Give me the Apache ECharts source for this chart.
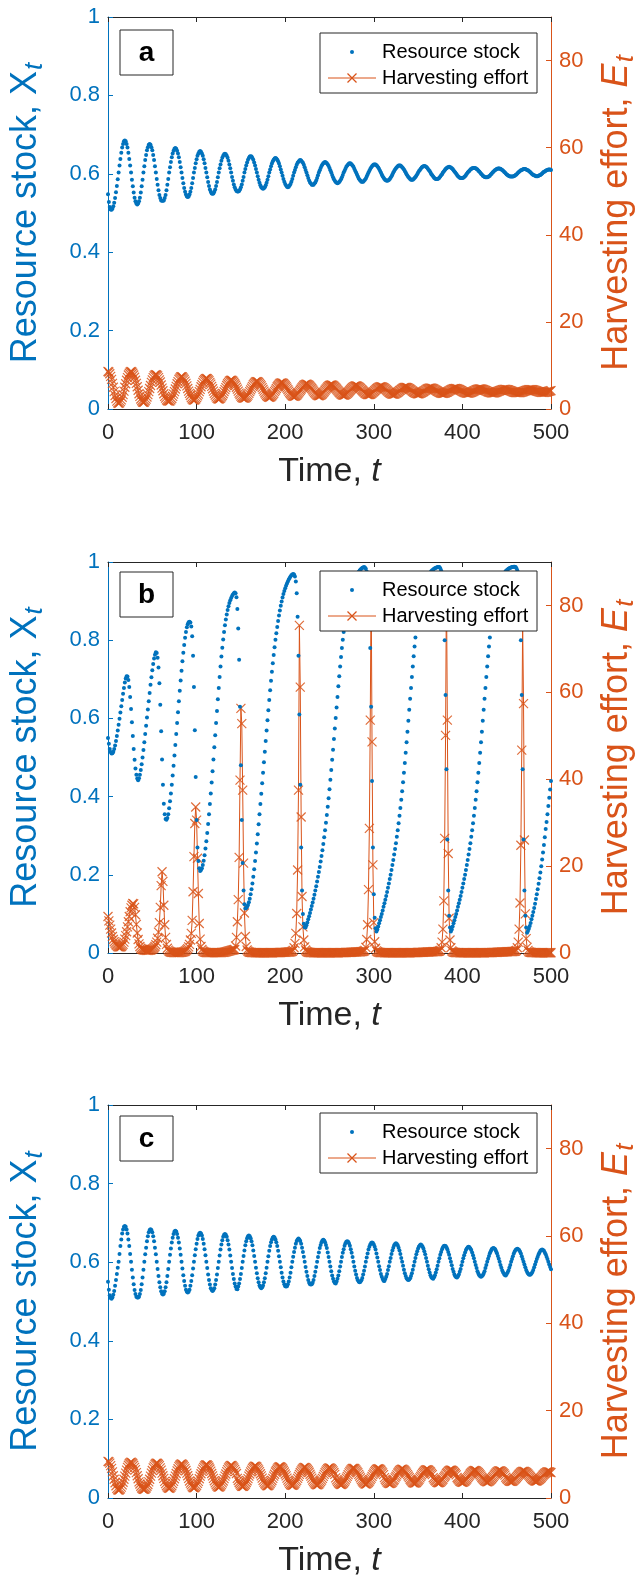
<!DOCTYPE html>
<html>
<head>
<meta charset="utf-8">
<script src="https://cdn.jsdelivr.net/npm/echarts/dist/echarts.min.js"></script>
<style>
html,body{margin:0;padding:0;background:#fff;}
#chart{width:644px;height:1577px;}
</style>
</head>
<body>
<div id="chart"></div>
<script>
// ---------- DATA (t = 0..500, step 1) ----------
const timeTicks = [0, 100, 200, 300, 400, 500];
const stockTicks = [0, 0.2, 0.4, 0.6, 0.8, 1];
const effortTicks = [0, 20, 40, 60, 80];
const panelLabels = ['a', 'b', 'c'];
const seriesNames = ['Resource stock', 'Harvesting effort'];

// Panel a : resource stock X_t
const stockA = [
.548,.528,.515,.509,.508,.511,.517,.526,.538,.553,.569,.586,
.603,.621,.638,.654,.667,.676,.683,.685,.683,.676,.667,.654,.638,.621,.603,.585,.568,.552,.539,.530,.524,.522,.524,.530,.539,.552,.568,.585,
.603,.619,.635,.648,.660,.668,.674,.676,.674,.668,.660,.648,.635,.619,.603,.587,.572,.558,.546,.538,.532,.531,.531,.532,.538,.546,.558,.572,.587,
.603,.617,.630,.642,.652,.659,.664,.666,.664,.659,.652,.642,.630,.617,.603,.589,.576,.564,.554,.547,.542,.541,.542,.547,.554,.564,.576,.589,
.603,.615,.627,.637,.646,.652,.656,.658,.656,.652,.646,.637,.627,.615,.603,.591,.579,.569,.560,.554,.550,.549,.550,.554,.560,.569,.579,.591,
.603,.614,.624,.633,.641,.646,.650,.651,.650,.646,.641,.633,.624,.614,.603,.592,.582,.573,.566,.560,.556,.555,.555,.556,.560,.566,.573,.582,.592,
.603,.612,.621,.629,.636,.640,.644,.645,.644,.640,.636,.629,.621,.612,.603,.594,.585,.577,.571,.566,.563,.562,.563,.566,.571,.577,.585,.594,
.603,.611,.619,.626,.632,.636,.639,.640,.639,.636,.632,.626,.619,.611,.603,.595,.587,.580,.574,.570,.567,.566,.567,.570,.574,.580,.587,.595,
.603,.610,.617,.623,.628,.631,.634,.635,.634,.631,.628,.623,.617,.610,.603,.596,.589,.583,.578,.575,.572,.572,.572,.575,.578,.583,.589,.596,
.603,.609,.615,.620,.624,.627,.629,.630,.629,.627,.624,.620,.615,.609,.603,.597,.591,.586,.582,.579,.577,.576,.577,.579,.582,.586,.591,.597,
.603,.608,.613,.618,.621,.624,.626,.627,.626,.624,.621,.618,.613,.608,.603,.598,.593,.588,.585,.582,.580,.580,.580,.582,.585,.588,.593,.598,
.603,.608,.612,.616,.619,.622,.624,.624,.624,.622,.619,.616,.612,.608,.603,.598,.594,.590,.587,.584,.583,.582,.583,.584,.587,.590,.594,.598,
.603,.607,.611,.614,.617,.619,.621,.621,.621,.619,.617,.614,.611,.607,.603,.599,.595,.592,.589,.587,.585,.585,.585,.587,.589,.592,.595,.599,
.603,.607,.610,.613,.616,.618,.619,.620,.619,.618,.616,.613,.610,.607,.603,.599,.596,.593,.590,.588,.587,.587,.587,.588,.590,.593,.596,.599,
.603,.606,.609,.612,.614,.616,.617,.618,.617,.616,.614,.612,.609,.606,.603,.600,.597,.594,.592,.590,.589,.589,.589,.590,.592,.594,.597,.600,
.603,.606,.608,.611,.612,.614,.615,.615,.615,.614,.612,.611,.608,.606,.603,.600,.598,.595,.594,.592,.591,.591,.591,.592,.594,.595,.598,.600,
.603,.605,.608,.610,.611,.613,.613,.614,.613,.613,.611,.610,.608,.605,.603,.601,.598,.597,.595,.594,.593,.593,.593,.593,.594,.595,.597,.598,.601,
.603,.605,.607,.609,.610,.611,.612,.612,.612,.611,.610,.609,.607,.605,.603,.601,.599,.597,.596,.595,.594,.594,.594,.595,.596,.597,.599,.601,
.603,.605,.606,.608,.609,.610,.611,.611,.611,.610
];
// Panel a : harvesting effort E_t
const effortA = [
8.6,8.5,8.1,7.5,6.8,5.9,5.0,4.0,3.1,2.4,1.8,1.4,
1.3,1.4,1.7,2.1,2.7,3.3,4.1,5.0,5.8,6.6,7.2,7.8,8.2,8.5,8.6,8.5,8.2,7.8,7.3,6.6,5.9,5.1,4.3,3.5,2.9,2.3,1.9,1.6,
1.55,1.6,1.9,2.25,2.75,3.3,4.0,4.7,5.4,6.1,6.7,7.2,7.6,7.8,7.9,7.8,7.6,7.2,6.7,6.2,5.5,4.8,4.2,3.5,2.9,2.5,2.1,1.9,1.85,
1.8,1.85,2.1,2.4,2.9,3.4,4.0,4.6,5.2,5.8,6.3,6.8,7.1,7.35,7.4,7.35,7.1,6.8,6.4,5.9,5.3,4.7,4.1,3.6,3.1,2.6,2.3,2.1,
2.05,2.1,2.3,2.6,3.0,3.4,4.0,4.5,5.1,5.6,6.1,6.5,6.75,6.95,7.0,6.95,6.75,6.5,6.1,5.7,5.2,4.65,4.1,3.6,3.2,2.8,2.5,2.35,
2.3,2.35,2.5,2.8,3.1,3.5,4.0,4.45,4.9,5.4,5.8,6.1,6.4,6.55,6.6,6.55,6.4,6.15,5.8,5.45,5.0,4.55,4.1,3.65,3.3,2.95,2.7,2.55,2.5,
2.5,2.55,2.7,2.9,3.2,3.6,4.0,4.4,4.8,5.2,5.6,5.9,6.1,6.25,6.3,6.25,6.1,5.9,5.6,5.3,4.9,4.5,4.1,3.7,3.4,3.1,2.9,2.75,
2.7,2.75,2.85,3.05,3.3,3.6,4.0,4.35,4.7,5.1,5.4,5.65,5.85,5.95,6.0,5.95,5.85,5.65,5.4,5.1,4.8,4.45,4.1,3.75,3.5,3.25,3.05,2.95,
2.9,2.95,3.05,3.2,3.45,3.7,4.0,4.3,4.6,4.9,5.15,5.4,5.55,5.65,5.7,5.65,5.55,5.4,5.2,4.95,4.7,4.4,4.1,3.8,3.6,3.35,3.2,3.1,
3.05,3.1,3.2,3.3,3.5,3.75,4.0,4.3,4.55,4.8,5.05,5.25,5.4,5.45,5.5,5.48,5.39,5.25,5.06,4.86,4.6,4.35,4.1,3.84,3.64,3.45,3.31,3.22,
3.2,3.22,3.3,3.43,3.6,3.79,4.02,4.25,4.48,4.71,4.9,5.07,5.2,5.28,5.3,5.28,5.2,5.08,4.92,4.74,4.52,4.3,4.08,3.86,3.68,3.52,3.4,3.32,
3.3,3.32,3.39,3.5,3.64,3.8,4.0,4.2,4.4,4.6,4.76,4.9,5.01,5.08,5.1,5.08,5.02,4.91,4.78,4.62,4.44,4.25,4.06,3.88,3.72,3.59,3.48,3.42,
3.4,3.42,3.48,3.57,3.69,3.83,4.0,4.18,4.35,4.52,4.66,4.78,4.87,4.93,4.95,4.94,4.88,4.79,4.67,4.54,4.38,4.23,4.07,3.91,3.78,3.66,3.57,3.51,
3.5,3.51,3.57,3.64,3.75,3.86,4.01,4.15,4.29,4.44,4.55,4.66,4.74,4.79,4.8,4.79,4.74,4.67,4.57,4.46,4.33,4.2,4.07,3.94,3.83,3.73,3.66,3.61,
3.6,3.61,3.66,3.72,3.81,3.91,4.03,4.15,4.27,4.39,4.49,4.58,4.65,4.69,4.7,4.69,4.65,4.58,4.5,4.41,4.29,4.18,4.06,3.94,3.85,3.77,3.7,3.66,
3.65,3.66,3.7,3.75,3.83,3.92,4.02,4.13,4.23,4.33,4.42,4.5,4.55,4.59,4.6,4.59,4.56,4.5,4.43,4.35,4.25,4.15,4.05,3.95,3.87,3.8,3.75,3.71,
3.7,3.71,3.74,3.79,3.85,3.92,4.01,4.1,4.19,4.28,4.35,4.41,4.46,4.49,4.5,4.49,4.46,4.42,4.36,4.29,4.21,4.13,4.04,3.96,3.89,3.83,3.79,3.76,3.75,
3.75,3.76,3.78,3.83,3.88,3.95,4.02,4.1,4.18,4.25,4.32,4.37,4.42,4.44,4.45,4.44,4.42,4.38,4.33,4.27,4.2,4.13,4.05,3.98,3.92,3.87,3.83,3.81,
3.8,3.81,3.83,3.87,3.91,3.97,4.03,4.1,4.17,4.23
];

// Panel b : resource stock X_t
const stockB = [
.55,.535,.522,.514,.51,.511,.515,.522,.531,.542,
.555,.569,.584,.599,.615,.631,.647,.663,.678,.692,
.702,.708,.707,.698,.68,.655,.624,.59,.555,.522,
.494,.472,.456,.446,.442,.447,.456,.468,.483,.5,
.519,.539,.56,.581,.602,.623,.644,.665,.686,.705,
.723,.739,.753,.763,.769,.767,.755,.73,.69,.635,
.567,.495,.43,.382,.355,.343,.341,.345,.355,.37,
.388,.408,.43,.454,.479,.505,.532,.56,.588,.616,
.644,.671,.697,.722,.746,.768,.788,.806,.821,.833,
.841,.846,.847,.845,.835,.81,.76,.68,.57,.45,
.34,.27,.235,.217,.21,.212,.217,.225,.236,.25,
.267,.286,.307,.33,.355,.381,.408,.436,.465,.495,
.526,.557,.588,.619,.649,.678,.706,.733,.758,.781,
.802,.821,.838,.853,.866,.877,.887,.895,.902,.908,
.913,.917,.92,.922,.92,.91,.88,.83,.75,.63,
.48,.34,.23,.16,.125,.114,.115,.118,.123,.13,
.139,.15,.163,.178,.195,.214,.235,.257,.28,.304,
.329,.355,.381,.407,.434,.461,.488,.515,.542,.569,
.595,.621,.647,.672,.696,.719,.741,.762,.782,.801,
.818,.834,.849,.863,.876,.888,.899,.909,.918,.926,
.933,.939,.945,.95,.955,.959,.963,.966,.968,.969,
.968,.963,.95,.92,.86,.76,.61,.43,.27,.16,
.1,.075,.066,.065,.071,.078,.086,.094,.102,.111,
.12,.129,.139,.149,.16,.171,.183,.195,.207,.22,
.234,.248,.263,.279,.296,.314,.333,.353,.374,.396,
.419,.443,.468,.494,.52,.547,.574,.601,.628,.655,
.682,.708,.733,.757,.78,.801,.821,.839,.856,.871,
.885,.897,.908,.918,.927,.935,.942,.948,.954,.959,
.964,.968,.972,.975,.978,.981,.983,.985,.986,.987,
.986,.983,.976,.962,.935,.88,.78,.63,.44,.27,
.15,.09,.063,.055,.06,.068,.076,.084,.092,.1,
.109,.118,.127,.136,.146,.156,.167,.178,.189,.2,
.212,.225,.238,.252,.266,.281,.297,.314,.332,.351,
.371,.392,.414,.437,.461,.486,.512,.539,.566,.594,
.622,.65,.678,.706,.733,.759,.784,.807,.829,.849,
.867,.883,.897,.909,.92,.929,.937,.944,.95,.955,
.96,.964,.968,.971,.974,.977,.979,.981,.983,.984,
.985,.986,.987,.987,.987,.984,.978,.965,.94,.89,
.8,.66,.47,.29,.16,.095,.065,.055,.06,.068,
.076,.084,.092,.1,.109,.118,.127,.136,.146,.156,
.167,.178,.189,.2,.212,.225,.238,.252,.266,.281,
.297,.314,.332,.351,.371,.392,.414,.437,.461,.486,
.512,.539,.566,.594,.622,.65,.678,.706,.733,.759,
.784,.807,.829,.849,.867,.883,.897,.909,.92,.929,
.937,.944,.95,.955,.96,.964,.968,.971,.974,.977,
.979,.981,.983,.984,.985,.986,.987,.987,.988,.988,
.987,.984,.978,.965,.94,.89,.8,.66,.47,.29,
.16,.095,.065,.052,.056,.062,.069,.077,.086,.095,
.105,.115,.126,.138,.15,.163,.177,.191,.206,.222,
.239,.257,.276,.296,.317,.335,.355,.376,.397,.418,
.44
];
// Panel b : harvesting effort E_t
const effortB = [
8.4,7.4,6.4,5.5,4.6,3.8,3.1,2.6,2.2,1.9,
1.7,1.5,1.4,1.4,1.4,1.5,1.7,2.0,2.5,3.2,
4.0,4.9,6.0,7.2,8.4,9.5,10.4,11.0,11.4,11.3,
10.5,8.8,6.6,4.6,3.1,2.1,1.5,1.1,0.9,0.8,
0.75,0.7,0.65,0.6,0.6,0.6,0.62,0.65,0.7,0.78,
0.88,1.0,1.2,1.5,1.9,2.5,3.4,4.8,7.0,10.5,
15.5,18.7,16.5,11,6.5,3.6,2.0,1.1,0.65,0.4,
0.28,0.2,0.16,0.13,0.11,0.1,0.1,0.1,0.1,0.1,
0.11,0.12,0.14,0.17,0.21,0.26,0.3,0.4,0.55,0.75,
1.0,1.4,2.0,3.0,4.5,7.5,14.1,22.2,29.8,33.6,
30.6,21.8,13.7,6.8,3.2,1.5,0.8,0.45,0.3,0.2,
0.15,0.12,0.1,0.09,0.08,0.08,0.07,0.07,0.07,0.07,
0.07,0.07,0.07,0.07,0.08,0.08,0.09,0.1,0.11,0.13,
0.15,0.18,0.21,0.25,0.3,0.36,0.43,0.5,0.55,0.6,
0.65,0.7,0.75,0.8,1.6,3.6,7.2,12.3,22,39.8,
56.3,52.8,37.5,20.7,9.2,3.8,1.5,0.7,0.4,0.25,
0.18,0.14,0.11,0.09,0.08,0.07,0.06,0.06,0.05,0.05,
0.05,0.05,0.05,0.05,0.05,0.05,0.05,0.05,0.05,0.05,
0.05,0.05,0.05,0.05,0.05,0.06,0.06,0.07,0.07,0.08,
0.08,0.09,0.1,0.1,0.11,0.12,0.13,0.14,0.15,0.16,
0.17,0.18,0.19,0.2,0.22,0.24,0.26,0.3,0.4,0.6,
1.2,2.2,4.5,9.1,19.1,37.5,75.4,61.2,31.3,13,
6,3,1.4,0.7,0.4,0.25,0.18,0.14,0.11,0.09,
0.08,0.07,0.06,0.06,0.05,0.05,0.05,0.05,0.05,0.05,
0.05,0.05,0.05,0.05,0.05,0.05,0.05,0.05,0.05,0.05,
0.05,0.05,0.05,0.05,0.05,0.05,0.05,0.05,0.05,0.06,
0.06,0.07,0.07,0.08,0.08,0.09,0.1,0.1,0.11,0.12,
0.13,0.14,0.15,0.16,0.17,0.18,0.19,0.2,0.21,0.22,
0.23,0.24,0.25,0.26,0.27,0.28,0.3,0.33,0.38,0.45,
0.6,1.3,3.1,6.5,14.6,28.7,53.6,86,48.6,20.3,
7,2.6,1.1,0.5,0.3,0.2,0.15,0.12,0.1,0.09,
0.08,0.07,0.06,0.06,0.05,0.05,0.05,0.05,0.05,0.05,
0.05,0.05,0.05,0.05,0.05,0.05,0.05,0.05,0.05,0.05,
0.05,0.05,0.05,0.05,0.05,0.05,0.05,0.05,0.05,0.05,
0.06,0.06,0.07,0.07,0.08,0.08,0.09,0.1,0.1,0.11,
0.12,0.13,0.14,0.15,0.16,0.17,0.18,0.19,0.2,0.21,
0.22,0.23,0.24,0.25,0.26,0.27,0.28,0.29,0.3,0.31,
0.32,0.33,0.35,0.38,0.45,0.6,1.2,2.5,5.5,12,
26.4,50.1,86,53.6,22.9,8,3,1.2,0.5,0.3,
0.2,0.15,0.12,0.1,0.09,0.08,0.07,0.06,0.06,0.05,
0.05,0.05,0.05,0.05,0.05,0.05,0.05,0.05,0.05,0.05,
0.05,0.05,0.05,0.05,0.05,0.05,0.05,0.05,0.05,0.05,
0.05,0.05,0.05,0.05,0.06,0.06,0.07,0.07,0.08,0.08,
0.09,0.1,0.1,0.11,0.12,0.13,0.14,0.15,0.16,0.17,
0.18,0.19,0.2,0.21,0.22,0.23,0.24,0.25,0.26,0.27,
0.28,0.29,0.3,0.31,0.32,0.33,0.34,0.35,0.36,0.38,
0.45,0.6,1.2,2.5,5.5,11.5,24.8,46.7,76,57.4,
26,9,3.3,1.3,0.6,0.3,0.2,0.15,0.12,0.1,
0.09,0.08,0.07,0.06,0.06,0.05,0.05,0.05,0.05,0.05,
0.05,0.05,0.05,0.05,0.05,0.05,0.05,0.05,0.05,0.05,
0.05
];

// Panel c : resource stock X_t
const stockC = [
.550,.530,.516,.509,.507,.510,.517,.527,.540,.555,.570,.586,
.601,.621,.641,.658,.673,.683,.690,.692,.690,.683,.673,.658,.641,.621,.601,.581,.561,.544,.529,.519,.512,.510,.510,.512,.519,.529,.544,.561,.581,
.601,.620,.637,.653,.666,.676,.682,.684,.682,.676,.666,.653,.637,.620,.601,.583,.565,.549,.536,.526,.520,.518,.520,.526,.536,.549,.565,.583,
.601,.619,.635,.650,.662,.672,.678,.680,.678,.672,.662,.650,.635,.619,.601,.584,.567,.552,.540,.530,.525,.523,.525,.530,.540,.552,.567,.584,
.601,.618,.633,.647,.659,.668,.673,.675,.673,.668,.659,.647,.633,.618,.601,.585,.569,.555,.543,.534,.529,.527,.529,.534,.543,.555,.569,.585,
.601,.617,.632,.645,.656,.665,.670,.672,.670,.665,.656,.645,.632,.617,.601,.585,.570,.557,.546,.538,.532,.531,.538,.546,.557,.570,.585,
.601,.616,.630,.643,.653,.661,.666,.668,.666,.661,.653,.643,.630,.616,.601,.586,.572,.559,.549,.541,.536,.534,.536,.541,.549,.559,.572,.586,
.601,.615,.629,.641,.651,.658,.663,.665,.663,.658,.651,.641,.629,.615,.601,.587,.573,.561,.551,.544,.539,.538,.539,.544,.551,.561,.573,.587,
.601,.614,.626,.637,.647,.654,.658,.660,.658,.654,.647,.637,.626,.614,.601,.588,.576,.565,.555,.548,.544,.543,.544,.548,.555,.565,.576,.588,
.601,.613,.625,.636,.644,.651,.655,.657,.655,.651,.644,.636,.625,.613,.601,.589,.577,.566,.558,.551,.547,.546,.551,.558,.566,.577,.589,
.601,.613,.624,.633,.642,.648,.652,.653,.652,.648,.642,.633,.624,.613,.601,.589,.578,.569,.560,.554,.550,.549,.550,.554,.560,.569,.578,.589,
.601,.612,.622,.632,.639,.645,.649,.650,.649,.645,.639,.632,.622,.612,.601,.590,.580,.570,.563,.557,.553,.552,.557,.563,.570,.580,.590,
.601,.611,.621,.630,.637,.643,.646,.648,.646,.643,.637,.630,.621,.611,.601,.591,.581,.572,.565,.559,.556,.555,.556,.559,.565,.572,.581,.591,
.601,.611,.620,.628,.635,.640,.643,.645,.643,.640,.635,.628,.620,.611,.601,.591,.582,.574,.567,.562,.559,.558,.562,.567,.574,.582,.591,
.601,.610,.619,.626,.633,.638,.641,.642,.641,.638,.633,.626,.619,.610,.601,.592,.583,.576,.569,.564,.562,.561,.564,.569,.576,.583,.592,
.601,.610,.618,.625,.631,.635,.638,.639,.638,.635,.631,.625,.618,.610,.601,.593,.585,.577,.571,.567,.564,.563,.564,.567,.571,.577,.585,.593,
.601,.609,.616,.623,.628,.633,.635,.636,.635,.633,.628,.623,.616,.609,.601,.593,.586,.579,.574,.570,.567,.566,.570,.574,.579,.586,.593,
.601,.608,.615,.622,.627,.631,.633,.634,.633,.631,.627,.622,.615,.608,.601,.594,.587,.580,.575,.571,.569,.568,.569,.571,.575,.580,.587,.594,
.601,.608,.614,.620,.625,.629,.631,.632,.631,.629,.625,.620,.614,.608,.601,.594,.588,.582
];
// Panel c : harvesting effort E_t
const effortC = [
8.4,8.3,8.0,7.4,6.8,6.0,5.1,4.3,3.5,2.8,2.2,1.9,
1.8,1.9,2.1,2.5,3.0,3.6,4.3,5.0,5.7,6.4,7.0,7.5,7.9,8.1,8.2,8.1,7.9,7.5,7.0,6.5,5.8,5.1,4.4,3.7,3.2,2.7,2.3,2.1,2.0,
2.0,2.1,2.3,2.7,3.1,3.7,4.3,5.0,5.7,6.3,6.9,7.3,7.7,7.9,8.0,7.9,7.7,7.4,6.9,6.4,5.7,5.1,4.5,3.8,3.3,2.8,2.5,2.3,
2.2,2.3,2.5,2.8,3.3,3.8,4.4,5.0,5.6,6.2,6.7,7.2,7.5,7.7,7.8,7.7,7.5,7.2,6.8,6.3,5.7,5.1,4.5,3.9,3.4,3.0,2.6,2.4,
2.35,2.4,2.6,2.9,3.35,3.8,4.4,5.0,5.55,6.1,6.6,7.0,7.35,7.55,7.6,7.55,7.35,7.05,6.65,6.15,5.6,5.05,4.5,3.95,3.45,3.05,2.75,2.55,
2.5,2.55,2.75,3.05,3.45,3.9,4.45,5.0,5.5,6.05,6.5,6.9,7.2,7.4,7.45,7.4,7.2,6.9,6.55,6.1,5.6,4.5,4.0,3.55,3.2,2.9,2.7,
2.65,2.7,2.9,3.15,3.55,3.95,4.45,5.0,5.5,6.0,6.4,6.8,7.05,7.25,7.3,7.25,7.1,6.8,6.45,6.05,5.55,5.05,4.55,4.05,3.65,3.3,3.05,2.85,
2.8,2.85,3.0,3.3,3.65,4.0,4.5,5.0,5.45,5.95,6.3,6.65,6.95,7.1,7.15,7.1,6.95,6.7,6.35,5.95,5.5,5.05,4.55,4.1,3.7,3.35,3.1,2.95,
2.9,2.95,3.1,3.35,3.7,4.05,4.5,4.95,5.4,5.85,6.2,6.55,6.8,6.95,7.0,6.95,6.8,6.55,6.25,5.9,5.45,5.0,4.55,4.1,3.75,3.45,3.2,3.05,
3.0,3.05,3.2,3.45,3.75,4.1,4.5,4.95,5.4,5.8,6.15,6.45,6.7,6.85,6.9,6.85,6.7,6.5,6.2,5.85,5.4,4.6,4.15,3.8,3.5,3.3,3.15,
3.1,3.15,3.3,3.5,3.8,4.15,4.55,4.95,5.35,5.75,6.1,6.4,6.6,6.75,6.8,6.75,6.6,6.4,6.1,5.8,5.4,5.0,4.6,4.2,3.9,3.6,3.4,3.25,
3.2,3.25,3.4,3.6,3.85,4.2,4.55,4.95,5.35,5.7,6.05,6.3,6.55,6.65,6.7,6.65,6.55,6.35,6.05,5.75,5.35,4.65,4.25,3.95,3.65,3.45,3.35,
3.3,3.35,3.45,3.65,3.95,4.2,4.6,4.95,5.3,5.7,5.95,6.25,6.45,6.55,6.6,6.55,6.45,6.25,6.0,5.7,5.35,5.0,4.65,4.3,4.0,3.75,3.55,3.45,
3.4,3.45,3.55,3.75,4.0,4.25,4.6,4.95,5.3,5.65,5.9,6.15,6.35,6.45,6.5,6.45,6.35,6.15,5.95,5.65,5.35,4.65,4.35,4.05,3.85,3.65,3.55,
3.5,3.55,3.65,3.8,4.05,4.3,4.65,4.95,5.25,5.6,5.85,6.1,6.25,6.35,6.4,6.35,6.25,6.1,5.85,5.6,5.3,4.7,4.4,4.15,3.9,3.75,3.65,
3.6,3.65,3.75,3.9,4.1,4.35,4.65,4.95,5.25,5.55,5.8,6.0,6.15,6.25,6.3,6.25,6.15,6.0,5.8,5.55,5.3,5.0,4.7,4.45,4.2,4.0,3.85,3.75,
3.7,3.75,3.85,4.0,4.2,4.4,4.7,4.95,5.25,5.5,5.75,5.95,6.1,6.2,6.2,6.2,6.1,5.95,5.75,5.55,5.25,4.75,4.45,4.25,4.05,3.9,3.8,
3.8,3.8,3.9,4.05,4.25,4.45,4.7,4.95,5.2,5.45,5.65,5.85,6.0,6.1,6.1,6.1,6.0,5.85,5.7,5.5,5.25,5.0,4.75,4.5,4.3,4.15,4.0,3.9,
3.9,3.9,4.0,4.15,4.3,4.5,4.7,4.95,5.2,5.4,5.6,5.75,5.9,6.0,6.0,6.0,5.9,5.8
];

// ---------- STYLE / LAYOUT ----------
const BLUE = '#0072BD';
const ORANGE = '#D95319';
const DARK = '#262626';
const FONT = '"Liberation Sans", Arial, Helvetica, sans-serif';
const panels = [
  { stock: stockA, effort: effortA, top: 17,   height: 392, legendTop: 33,   boxTop: 30 },
  { stock: stockB, effort: effortB, top: 562,  height: 391, legendTop: 571,  boxTop: 572 },
  { stock: stockC, effort: effortC, top: 1105, height: 393, legendTop: 1113, boxTop: 1116 }
];
const GL = 108, GW = 443;

const chart = echarts.init(document.getElementById('chart'), null, { renderer: 'canvas' });
const grid = [], xAxis = [], yAxis = [], series = [], graphic = [];
const xMark = 'path://M0,0L10,10M10,0L0,10';

panels.forEach((p, i) => {
  grid.push({ left: GL, top: p.top, width: GW, height: p.height, show: false, outerBoundsMode: 'none' });
  xAxis.push({
    type: 'value', gridIndex: i, min: timeTicks[0], max: timeTicks[timeTicks.length - 1], interval: 100,
    axisLine: { show: true, onZero: false, lineStyle: { color: DARK, width: 1 } },
    axisTick: { show: true, inside: true, length: 5, lineStyle: { color: DARK, width: 1 } },
    axisLabel: { color: DARK, fontSize: 22, margin: 13, fontFamily: FONT },
    splitLine: { show: false },
    name: 'Time, {i|t}', nameLocation: 'middle', nameGap: 46, nameMoveOverlap: false,
    nameTextStyle: { color: DARK, fontSize: 34, fontFamily: FONT,
      rich: { i: { fontStyle: 'italic', fontSize: 34, color: DARK, fontFamily: FONT } } }
  });
  xAxis.push({
    type: 'value', gridIndex: i, position: 'top', min: 0, max: 500, interval: 100,
    axisLine: { show: true, onZero: false, lineStyle: { color: DARK, width: 1 } },
    axisTick: { show: true, inside: true, length: 5, lineStyle: { color: DARK, width: 1 } },
    axisLabel: { show: false }, splitLine: { show: false }
  });
  yAxis.push({
    type: 'value', gridIndex: i, position: 'left', min: stockTicks[0], max: stockTicks[stockTicks.length - 1], interval: 0.2,
    axisLine: { show: true, onZero: false, lineStyle: { color: BLUE, width: 1 } },
    axisTick: { show: true, inside: true, length: 5, lineStyle: { color: BLUE, width: 1 } },
    axisLabel: { color: BLUE, fontSize: 22, margin: 8, fontFamily: FONT },
    splitLine: { show: false },
    name: 'Resource stock, X{s|t}', nameLocation: 'middle', nameRotate: 90, nameGap: 60, nameMoveOverlap: false,
    nameTextStyle: { color: BLUE, fontSize: 36, fontFamily: FONT,
      rich: { s: { fontSize: 26, fontStyle: 'italic', color: BLUE, fontFamily: FONT, padding: [18, 0, 0, 1] } } }
  });
  yAxis.push({
    type: 'value', gridIndex: i, position: 'right', min: 0, max: 90, interval: 20,
    axisLine: { show: true, onZero: false, lineStyle: { color: ORANGE, width: 1 } },
    axisTick: { show: true, inside: true, length: 5, lineStyle: { color: ORANGE, width: 1 } },
    axisLabel: { color: ORANGE, fontSize: 22, margin: 8, fontFamily: FONT, showMaxLabel: false },
    splitLine: { show: false },
    name: 'Harvesting effort, {e|E}{s|t}', nameLocation: 'middle', nameRotate: 90, nameGap: 44, nameMoveOverlap: false,
    nameTextStyle: { color: ORANGE, fontSize: 36, fontFamily: FONT,
      rich: {
        e: { fontSize: 36, fontStyle: 'italic', color: ORANGE, fontFamily: FONT },
        s: { fontSize: 26, fontStyle: 'italic', color: ORANGE, fontFamily: FONT, padding: [18, 0, 0, 1] }
      } }
  });

  series.push({
    name: seriesNames[1], type: 'line', xAxisIndex: 2 * i, yAxisIndex: 2 * i + 1,
    data: p.effort.map((v, t) => [t, v]),
    symbol: xMark, symbolSize: 9, showSymbol: true, clip: false,
    lineStyle: { color: ORANGE, width: 1 },
    itemStyle: { color: ORANGE, borderColor: ORANGE, borderWidth: 1.2, opacity: 0.85 },
    silent: true, animation: false, z: 2
  });
  series.push({
    name: seriesNames[0], type: 'scatter', xAxisIndex: 2 * i, yAxisIndex: 2 * i,
    data: p.stock.map((v, t) => [t, v]),
    symbol: 'circle', symbolSize: 4, clip: false,
    itemStyle: { color: BLUE, opacity: 1 },
    silent: true, animation: false, z: 3
  });

  graphic.push({ type: 'rect', z: 100, shape: { x: 120, y: p.boxTop, width: 53, height: 45 },
    style: { fill: '#fff', stroke: DARK, lineWidth: 1 } });
  graphic.push({ type: 'text', z: 101, x: 146.5, y: p.boxTop + 23,
    style: { text: panelLabels[i], font: 'bold 28px ' + FONT, fill: '#000', align: 'center', verticalAlign: 'middle' } });
  const lt = p.legendTop;
  graphic.push({ type: 'rect', z: 100, shape: { x: 320, y: lt, width: 217, height: 60 },
    style: { fill: '#fff', stroke: DARK, lineWidth: 1 } });
  graphic.push({ type: 'circle', z: 101, shape: { cx: 352, cy: lt + 19, r: 2 }, style: { fill: BLUE } });
  graphic.push({ type: 'line', z: 101, shape: { x1: 328, y1: lt + 45, x2: 376, y2: lt + 45 }, style: { stroke: ORANGE, lineWidth: 1 } });
  graphic.push({ type: 'line', z: 101, shape: { x1: 347.5, y1: lt + 40.5, x2: 356.5, y2: lt + 49.5 }, style: { stroke: ORANGE, lineWidth: 1.2 } });
  graphic.push({ type: 'line', z: 101, shape: { x1: 356.5, y1: lt + 40.5, x2: 347.5, y2: lt + 49.5 }, style: { stroke: ORANGE, lineWidth: 1.2 } });
  graphic.push({ type: 'text', z: 101, x: 382, y: lt + 19,
    style: { text: seriesNames[0], font: '20px ' + FONT, fill: '#000', align: 'left', verticalAlign: 'middle' } });
  graphic.push({ type: 'text', z: 101, x: 382, y: lt + 45,
    style: { text: seriesNames[1], font: '20px ' + FONT, fill: '#000', align: 'left', verticalAlign: 'middle' } });
});

const lens = [stockA, effortA, stockB, effortB, stockC, effortC].map(a => a.length);
if (lens.some(n => n !== 501)) {
  graphic.push({ type: 'text', z: 200, x: 2, y: 2, style: { text: 'LEN ' + lens.join(','), font: '12px monospace', fill: 'red' } });
}

chart.setOption({
  animation: false,
  textStyle: { fontFamily: FONT },
  grid, xAxis, yAxis, series, graphic
});
</script>
</body>
</html>
